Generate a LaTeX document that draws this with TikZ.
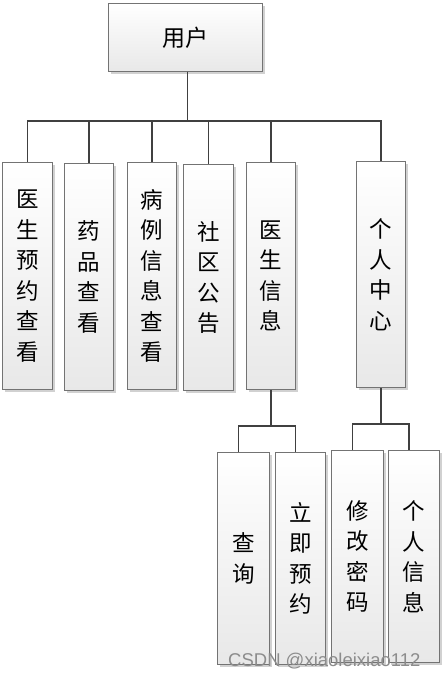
\documentclass[tikz,border=0pt]{standalone}
\usepackage{fontspec}
\setmainfont{Noto Sans CJK SC}
\newfontfamily\wmfont{Liberation Sans}
\usetikzlibrary{shadows,calc}
\begin{document}
\begin{tikzpicture}[x=1pt,y=-1pt,
  box/.style={draw=black!55,line width=1pt,rectangle,anchor=north west,inner sep=0pt,
    top color=white,bottom color=black!9,
    drop shadow={shadow xshift=2.5pt,shadow yshift=-2.5pt,fill=black,opacity=0.18},
    align=center,font=\fontsize{22.5}{30.5}\selectfont},
  conn/.style={draw=black!75,line width=1.6pt}]
\useasboundingbox[fill=white] (0,0) rectangle (444,674);
\node[box,minimum width=154pt,minimum height=68pt,font=\fontsize{23}{28}\selectfont] (top) at (108,3) {用户};
\node[box,minimum width=50pt,minimum height=227pt] (b1) at (2,162) {医\\生\\预\\约\\查\\看};
\node[box,minimum width=49pt,minimum height=227pt] (b2) at (64,163) {药\\品\\查\\看};
\node[box,minimum width=49pt,minimum height=227pt] (b3) at (127,162) {病\\例\\信\\息\\查\\看};
\node[box,minimum width=50pt,minimum height=226pt] (b4) at (183,164) {社\\区\\公\\告};
\node[box,minimum width=49pt,minimum height=227pt] (b5) at (246,162) {医\\生\\信\\息};
\node[box,minimum width=49pt,minimum height=226pt] (b6) at (356,161) {个\\人\\中\\心};
\node[box,minimum width=52pt,minimum height=212pt] (s1) at (217,452) {查\\询};
\node[box,minimum width=50pt,minimum height=212pt] (s2) at (275,452) {立\\即\\预\\约};
\node[box,minimum width=52pt,minimum height=212pt] (s3) at (331,450) {修\\改\\密\\码};
\node[box,minimum width=51pt,minimum height=212pt] (s4) at (388,450) {个\\人\\信\\息};
\coordinate (tstem) at ($(top.south)+(2,0)$);
\foreach \b in {b1,b2,b3,b4,b5,b6}
  \draw[conn] (tstem) -- ++(0,49) -| (\b.north);
\foreach \b in {s1,s2}
  \draw[conn] (b5.south) -- ++(0,36) -| ($(\b.north)+(-5,0)$);
\foreach \b in {s3,s4}
  \draw[conn] (b6.south) -- ++(0,36) -| ($(\b.north)+(-5,0)$);
\node[anchor=base west,inner sep=0pt,text=black!45,font=\wmfont\fontsize{18.5}{20}\selectfont] (wm) at (228,666) {CSDN @xiaoleixiao112};
\end{tikzpicture}
\end{document}
